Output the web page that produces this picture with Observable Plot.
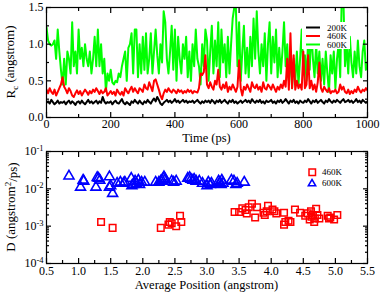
<!DOCTYPE html>
<html><head><meta charset="utf-8">
<script src="https://cdn.jsdelivr.net/npm/d3@7"></script>
<script src="https://cdn.jsdelivr.net/npm/@observablehq/plot@0.6"></script>
<style>
body{margin:0;background:#fff;}
#wrap{position:relative;width:382px;height:292px;}
#top,#bot{position:absolute;left:0;}
#top{top:0}#bot{top:146px}
svg, svg text, svg tspan{font-family:"Liberation Serif","Times New Roman",serif !important;}
</style></head><body><div id="wrap"><div id="top"></div><div id="bot"></div></div>
<script>
// ---- Top panel data: Rc (angstrom) every 5 ps, 0..1000 ps ----
const green600 = [
1.23,1.05,1.0,0.98,1.0,1.05,0.8,1.2,0.9,0.65,
0.45,0.8,0.45,0.9,0.8,0.6,1.3,0.7,0.9,0.6,
1.2,0.8,0.95,0.7,1.0,0.8,0.7,0.9,0.6,0.8,
1.1,0.7,1.2,0.7,1.0,0.6,0.8,0.36,0.6,0.5,
0.65,0.48,0.45,0.5,0.48,0.6,0.55,0.7,0.8,0.9,
0.5,0.95,1.0,1.15,0.6,1.2,1.2,0.55,1.0,0.6,
1.1,0.65,1.15,0.6,0.8,1.15,0.6,0.9,1.2,0.85,
0.6,1.0,0.75,1.45,1.3,0.8,0.6,0.9,1.25,0.65,
1.2,0.5,1.1,0.8,0.6,1.0,0.8,1.1,0.55,0.9,
0.5,1.0,0.7,1.2,0.8,0.7,0.45,1.0,0.7,1.2,
1.05,0.5,0.9,1.25,0.6,1.05,0.7,1.3,0.55,1.2,
0.75,1.0,0.55,1.1,0.6,1.0,1.35,1.5,1.5,0.7,
1.3,0.5,0.9,1.25,0.6,0.95,0.55,1.1,0.7,1.35,
0.8,1.45,0.9,0.6,1.0,0.7,1.15,0.5,1.0,1.3,
0.6,1.1,0.75,1.2,0.55,0.95,0.6,0.9,1.3,0.7,
1.0,0.5,0.9,0.4,0.8,0.5,0.9,0.45,0.8,1.2,
0.6,0.85,0.5,1.05,0.65,1.2,0.8,0.55,1.0,0.6,
0.9,0.5,0.8,0.45,0.9,0.6,0.35,0.85,0.6,0.9,
0.4,0.8,1.0,0.55,1.7,1.6,0.7,1.0,0.6,1.1,
0.75,0.55,0.9,0.6,1.05,0.7,0.55,0.9,1.05,0.65,
0.75];
const red460 = [
0.38,0.33,0.40,0.35,0.32,0.38,0.30,0.35,0.40,0.45,
0.55,0.42,0.38,0.33,0.40,0.36,0.30,0.28,0.33,0.37,
0.32,0.36,0.30,0.34,0.38,0.35,0.31,0.36,0.33,0.38,
0.35,0.40,0.36,0.32,0.37,0.33,0.35,0.40,0.30,0.33,
0.36,0.32,0.35,0.30,0.38,0.34,0.31,0.35,0.30,0.40,
0.36,0.33,0.38,0.42,0.35,0.40,0.36,0.33,0.40,0.38,
0.35,0.45,0.40,0.38,0.48,0.42,0.36,0.50,0.52,0.45,
0.38,0.30,0.25,0.33,0.38,0.35,0.40,0.36,0.34,0.38,
0.36,0.33,0.38,0.35,0.37,0.33,0.36,0.34,0.38,0.35,
0.37,0.33,0.36,0.35,0.34,0.40,0.60,0.58,0.62,0.85,
0.45,0.40,0.48,0.42,0.38,0.50,0.45,0.65,0.42,0.38,
0.45,0.40,0.48,0.35,0.42,0.38,0.45,0.40,0.35,0.42,
0.78,0.40,0.30,0.42,0.38,0.45,0.40,0.35,0.48,0.42,
0.40,0.45,0.38,0.42,0.35,0.48,0.40,0.38,0.45,0.42,
0.38,0.45,0.40,0.35,0.42,0.38,0.45,0.40,0.50,0.42,
0.80,0.38,1.15,0.40,0.85,0.38,0.50,0.40,0.45,0.38,
0.90,0.40,0.45,0.85,0.40,0.50,0.38,0.45,0.35,0.48,
0.75,0.40,0.35,0.42,0.38,0.35,0.40,0.33,0.36,0.35,
0.38,0.33,0.35,0.45,0.38,0.42,0.35,0.33,0.38,0.32,
0.36,0.33,0.38,0.35,0.42,0.37,0.34,0.38,0.36,0.40,
0.37];
const black200 = [
0.20,0.22,0.19,0.24,0.21,0.18,0.20,0.23,0.19,0.21,
0.20,0.22,0.18,0.21,0.23,0.19,0.22,0.20,0.17,0.21,
0.22,0.19,0.23,0.20,0.18,0.21,0.24,0.20,0.22,0.19,
0.21,0.23,0.19,0.22,0.20,0.28,0.22,0.19,0.21,0.20,
0.22,0.18,0.21,0.23,0.20,0.19,0.22,0.25,0.20,0.18,
0.21,0.19,0.17,0.22,0.20,0.24,0.21,0.19,0.23,0.20,
0.18,0.22,0.20,0.24,0.21,0.19,0.23,0.26,0.22,0.28,
0.24,0.19,0.17,0.20,0.22,0.24,0.21,0.23,0.20,0.22,
0.25,0.21,0.23,0.20,0.22,0.24,0.21,0.23,0.20,0.22,
0.21,0.23,0.20,0.22,0.24,0.21,0.19,0.22,0.20,0.23,
0.21,0.23,0.20,0.24,0.22,0.19,0.23,0.21,0.24,0.20,
0.22,0.24,0.21,0.19,0.23,0.21,0.24,0.20,0.22,0.19,
0.21,0.23,0.20,0.22,0.24,0.21,0.23,0.20,0.25,0.22,
0.20,0.23,0.21,0.24,0.20,0.22,0.19,0.23,0.21,0.22,
0.24,0.20,0.22,0.19,0.23,0.21,0.24,0.20,0.22,0.25,
0.22,0.19,0.23,0.21,0.24,0.20,0.22,0.19,0.23,0.21,
0.20,0.23,0.21,0.25,0.22,0.19,0.23,0.21,0.24,0.20,
0.22,0.24,0.21,0.19,0.23,0.21,0.25,0.22,0.20,0.23,
0.21,0.24,0.22,0.20,0.23,0.25,0.21,0.22,0.24,0.21,
0.23,0.20,0.22,0.25,0.21,0.23,0.20,0.24,0.22,0.20,
0.22];
const timeStepPs = 5;
const timeTicksMajor = [0,200,400,600,800,1000];
const timeTicksMinor = [100,300,500,700,900];
const rcTicksMajor = [0,0.5,1.0,1.5];
const rcTicksMinor = [0.25,0.75,1.25];

// ---- Bottom panel data: D vs average position ----
const pos460 = [1.35,1.53,2.28,2.40,2.42,2.45,2.52,2.58,2.60,3.43,3.50,3.55,3.60,3.62,3.65,3.70,3.75,3.78,3.88,3.90,3.93,3.95,4.02,4.05,4.08,4.20,4.20,4.22,4.27,4.30,4.37,4.45,4.53,4.57,4.60,4.62,4.63,4.65,4.67,4.68,4.70,4.72,4.75,4.88,4.90,4.92,4.98,5.03];
const d460 = [0.0013,0.0009,0.0009,0.0011,0.0013,0.0012,0.001,0.0019,0.0013,0.0024,0.0024,0.003,0.0027,0.0022,0.0032,0.004,0.0017,0.0032,0.0023,0.002,0.0025,0.0035,0.0028,0.0025,0.0022,0.0023,0.0011,0.0013,0.0014,0.0013,0.0028,0.0023,0.0019,0.0022,0.0015,0.0025,0.0018,0.002,0.0013,0.0016,0.0029,0.002,0.0016,0.0019,0.0016,0.0017,0.0015,0.002];
const pos600 = [0.85,1.03,1.07,1.08,1.27,1.29,1.31,1.33,1.48,1.48,1.50,1.53,1.60,1.65,1.70,1.72,1.82,1.83,1.85,1.88,1.90,1.93,1.95,1.98,2.03,2.20,2.25,2.28,2.30,2.32,2.33,2.35,2.45,2.48,2.52,2.70,2.73,2.75,2.78,2.80,2.83,2.88,2.93,3.00,3.02,3.05,3.07,3.18,3.20,3.22,3.23,3.25,3.38,3.42,3.45,3.47,3.58];
const d600 = [0.022,0.011,0.017,0.016,0.011,0.02,0.019,0.017,0.021,0.011,0.012,0.0075,0.014,0.015,0.014,0.015,0.019,0.012,0.013,0.016,0.014,0.017,0.013,0.015,0.015,0.015,0.015,0.016,0.017,0.019,0.021,0.018,0.016,0.015,0.016,0.019,0.02,0.018,0.017,0.018,0.016,0.016,0.014,0.012,0.015,0.013,0.014,0.016,0.015,0.013,0.017,0.014,0.017,0.016,0.013,0.014,0.015];
const posTicksMajor = [0.5,1.0,1.5,2.0,2.5,3.0,3.5,4.0,4.5,5.0,5.5];
const posTicksMinor = [0.75,1.25,1.75,2.25,2.75,3.25,3.75,4.25,4.75,5.25];
const dTicksMajor = [1e-4,1e-3,1e-2,1e-1];
const dTicksMinor = [2e-4,3e-4,4e-4,5e-4,6e-4,7e-4,8e-4,9e-4,2e-3,3e-3,4e-3,5e-3,6e-3,7e-3,8e-3,9e-3,2e-2,3e-2,4e-2,5e-2,6e-2,7e-2,8e-2,9e-2];

const series = [
  {name:"600K", color:"#00ff00", values:green600},
  {name:"460K", color:"#ff0000", values:red460},
  {name:"200K", color:"#000000", values:black200}
];
const rows = series.flatMap(s => s.values.map((v,i)=>({t:i*timeStepPs, v, s:s.name})));

function frameAxes(xMaj, xMin, yMaj, yMin, xFmt, yFmt, xPad){
  return [
    Plot.frame({stroke:"black", strokeWidth:1.2}),
    Plot.axisX(xMaj,{anchor:"bottom",tickSize:-5,text:null,label:null,strokeWidth:1.2}),
    Plot.axisX(xMin,{anchor:"bottom",tickSize:-3,text:null,label:null,strokeWidth:1.2}),
    Plot.axisX(xMaj,{anchor:"top",tickSize:-5,text:null,label:null,strokeWidth:1.2}),
    Plot.axisX(xMin,{anchor:"top",tickSize:-3,text:null,label:null,strokeWidth:1.2}),
    Plot.axisY(yMaj,{anchor:"left",tickSize:-5,text:null,label:null,strokeWidth:1.2}),
    Plot.axisY(yMin,{anchor:"left",tickSize:-3,text:null,label:null,strokeWidth:1.2}),
    Plot.axisY(yMaj,{anchor:"right",tickSize:-5,text:null,label:null,strokeWidth:1.2}),
    Plot.axisY(yMin,{anchor:"right",tickSize:-3,text:null,label:null,strokeWidth:1.2}),
    Plot.axisX(xMaj,{anchor:"bottom",tickSize:0,tickPadding:xPad,tickFormat:xFmt,label:null,fontSize:12,fill:"black"}),
    Plot.axisY(yMaj,{anchor:"left",tickSize:0,tickPadding:3,tickFormat:yFmt,label:null,fontSize:12,fill:"black"})
  ];
}

const style = {fontFamily:"Liberation Serif, serif", fontSize:"12px", background:"white", color:"black", overflow:"visible"};

const topPlot = Plot.plot({
  width:382, height:146, marginLeft:46, marginRight:15, marginTop:7, marginBottom:29,
  style,
  x:{domain:[0,1000]}, y:{domain:[0,1.5]},
  marks:[
    Plot.line(rows,{x:"t", y:"v", z:"s", stroke:d=>series.find(s=>s.name===d.s).color, strokeWidth:2, clip:true}),
    ...frameAxes(timeTicksMajor, timeTicksMinor, rcTicksMajor, rcTicksMinor, d=>String(d), d=>d3.format(".1f")(d), 2)
  ]
});
document.getElementById("top").appendChild(topPlot);

const botPlot = Plot.plot({
  width:382, height:146, marginLeft:46, marginRight:15, marginTop:5, marginBottom:29,
  style,
  x:{domain:[0.5,5.5]}, y:{type:"log", domain:[1e-4,1e-1]},
  marks:[
    Plot.dot(pos460.map((p,i)=>({p, d:d460[i]})),{x:"p", y:"d", symbol:"square", r:3.7, stroke:"#ff0000", strokeWidth:1.5, fill:"none"}),
    Plot.dot(pos600.map((p,i)=>({p, d:d600[i]})),{x:"p", y:"d", symbol:"triangle", r:3.7, stroke:"#0000ff", strokeWidth:1.6, fill:"none"}),
    ...frameAxes(posTicksMajor, posTicksMinor, dTicksMajor, dTicksMinor, d=>d3.format(".1f")(d), d=>"10^"+Math.round(Math.log10(d)), 3)
  ]
});
document.getElementById("bot").appendChild(botPlot);

// superscript exponents on log tick labels
d3.select(botPlot).selectAll('g[aria-label="y-axis tick label"] text').each(function(){
  const t = d3.select(this); const s = t.text();
  if (s.indexOf("^")<0) return;
  const [b,e] = s.split("^");
  t.text(null);
  t.append("tspan").text(b);
  t.append("tspan").attr("dy","-0.5em").attr("font-size","8.5px").text(e);
});

function addTitles(svg, xTitle, yTitleFn, yCenter, xY){
  const s = d3.select(svg);
  s.append("text").attr("x",206.5).attr("y",xY).attr("text-anchor","middle")
    .attr("font-size","12.5px").attr("fill","black").text(xTitle);
  const yt = s.append("text").attr("transform",`translate(15,${yCenter}) rotate(-90)`)
    .attr("text-anchor","middle").attr("font-size","13px").attr("fill","black");
  yTitleFn(yt);
}
addTitles(topPlot, "Time (ps)", t=>{
  t.append("tspan").text("R");
  t.append("tspan").attr("dy","0.3em").attr("font-size","9px").text("c");
  t.append("tspan").attr("dy","-0.3em").text(" (angstrom)");
}, 62, 142);
addTitles(botPlot, "Average Position (angstrom)", t=>{
  t.append("tspan").text("D (angstrom");
  t.append("tspan").attr("dy","-0.45em").attr("font-size","9px").text("2");
  t.append("tspan").attr("dy","0.45em").text("/ps)");
}, 61, 143);

// legends
{
  const s = d3.select(topPlot);
  const g = s.append("g").attr("text-anchor","start");
  g.append("rect").attr("x",302).attr("y",22).attr("width",48).attr("height",27).attr("fill","white");
  const items = [["200K","#000"],["460K","#ff0000"],["600K","#00ff00"]];
  items.forEach(([n,c],i)=>{
    const y = 27.5 + i*8.5;
    g.append("line").attr("x1",306).attr("x2",320).attr("y1",y).attr("y2",y).attr("stroke",c).attr("stroke-width",2);
    g.append("text").attr("x",327).attr("y",y+3).attr("font-size","9px").attr("text-anchor","start").attr("fill","black").text(n);
  });
}
{
  const s = d3.select(botPlot);
  const g = s.append("g").attr("text-anchor","start");
  g.append("rect").attr("x",309).attr("y",23).attr("width",6.5).attr("height",6.5).attr("fill","none").attr("stroke","#ff0000").attr("stroke-width",1.5);
  g.append("path").attr("d","M312,33.5L315.7,39.8L308.3,39.8Z").attr("fill","none").attr("stroke","#0000ff").attr("stroke-width",1.5);
  g.append("text").attr("x",322).attr("y",29).attr("font-size","9px").attr("text-anchor","start").attr("fill","black").text("460K");
  g.append("text").attr("x",322).attr("y",40).attr("font-size","9px").attr("text-anchor","start").attr("fill","black").text("600K");
}
</script></body></html>
